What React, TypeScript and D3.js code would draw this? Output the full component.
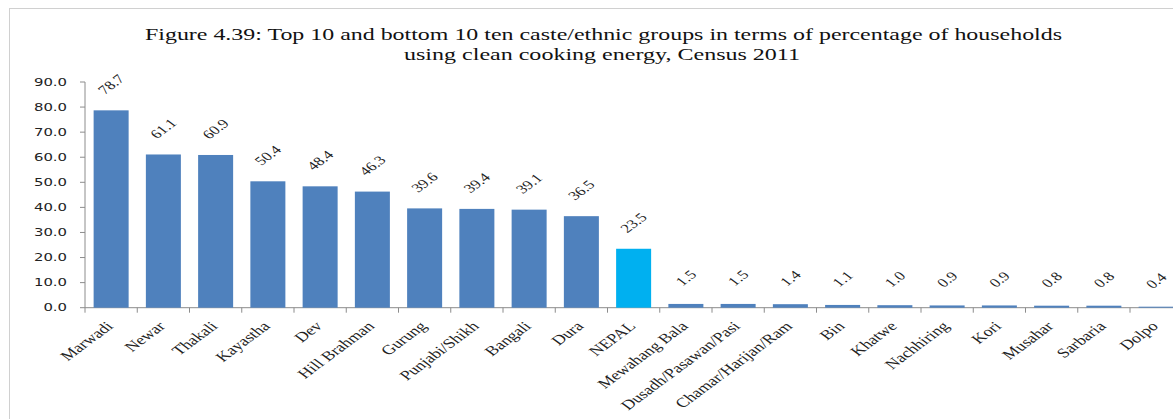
import React from "react";
import * as d3 from "d3";

const categories = [
  "Marwadi", "Newar", "Thakali", "Kayastha", "Dev", "Hill Brahman", "Gurung",
  "Punjabi/Shikh", "Bangali", "Dura", "NEPAL", "Mewahang Bala",
  "Dusadh/Pasawan/Pasi", "Chamar/Harijan/Ram", "Bin", "Khatwe", "Nachhiring",
  "Kori", "Musahar", "Sarbaria", "Dolpo",
];
const values = [78.7, 61.1, 60.9, 50.4, 48.4, 46.3, 39.6, 39.4, 39.1, 36.5, 23.5, 1.5, 1.5, 1.4, 1.1, 1.0, 0.9, 0.9, 0.8, 0.8, 0.4];
const yTicks = [0, 10, 20, 30, 40, 50, 60, 70, 80, 90];
const titleLines = [
  "Figure 4.39: Top 10 and bottom 10 ten caste/ethnic groups in terms of percentage of households",
  "using clean cooking energy, Census 2011",
];
const highlight = "NEPAL";

const W = 1173;
const H = 419;
const SX = 1.35; // horizontal stretch seen in the reference
const serif = "'Liberation Serif', 'Times New Roman', serif";
const sans = "'DejaVu Sans', Verdana, sans-serif";

export default function App() {
  const x = d3
    .scaleBand<string>()
    .domain(categories)
    .range([85, 85 + 21 * 52.25])
    .paddingInner(0.33)
    .paddingOuter(0.165);
  const y = d3.scaleLinear().domain([0, 90]).range([307.7, 82]);
  const axisColor = "#8c8c8c";
  const bw = x.bandwidth();
  const step = x.step();

  return (
    <svg
      width={W}
      height={H}
      style={{ position: "absolute", left: 0, top: 0, background: "#fff" }}
    >
      <rect x={0} y={0} width={W} height={H} fill="#fff" />
      <rect x={9.5} y={8.5} width={1300} height={600} fill="none" stroke="#d0d0d0" strokeWidth={1} />

      {/* Title */}
      <text x={603.5} y={40} textAnchor="middle" fontFamily={serif} fontSize={16} fill="#111"
        textLength={917} lengthAdjust="spacingAndGlyphs">
        {titleLines[0]}
      </text>
      <text x={602} y={60} textAnchor="middle" fontFamily={serif} fontSize={16} fill="#111"
        textLength={396} lengthAdjust="spacingAndGlyphs">
        {titleLines[1]}
      </text>

      {/* Y axis */}
      <line x1={85} x2={85} y1={y(0)} y2={y(90)} stroke={axisColor} />
      {yTicks.map((t) => (
        <g key={t}>
          <line x1={80} x2={85} y1={y(t)} y2={y(t)} stroke={axisColor} />
          <text
            transform={`translate(67,${y(t)}) scale(${SX},1)`}
            textAnchor="end"
            dominantBaseline="central"
            fontFamily={sans}
            fontSize={11}
            fill="#222"
          >
            {t.toFixed(1)}
          </text>
        </g>
      ))}

      {/* X axis */}
      <line x1={85} x2={W} y1={y(0)} y2={y(0)} stroke={axisColor} />
      {categories.map((c, i) => {
        const tx = 85 + i * step;
        return <line key={"t" + c} x1={tx} x2={tx} y1={y(0)} y2={y(0) + 5} stroke={axisColor} />;
      })}

      {/* Bars */}
      {categories.map((c, i) => (
        <rect
          key={"b" + c}
          x={x(c)}
          y={y(values[i])}
          width={bw}
          height={y(0) - y(values[i])}
          fill={c === highlight ? "#00B0F0" : "#4F81BD"}
        />
      ))}

      {/* Value labels */}
      {categories.map((c, i) => {
        const cx = (x(c) as number) + bw / 2;
        return (
          <text
            key={"v" + c}
            transform={`translate(${cx},${y(values[i]) - 26}) scale(${SX},1) rotate(-45)`}
            textAnchor="middle"
            dominantBaseline="central"
            fontFamily={serif}
            fontSize={12.5}
            fill="#222"
          >
            {values[i].toFixed(1)}
          </text>
        );
      })}

      {/* Category labels */}
      {categories.map((c) => {
        const cx = (x(c) as number) + bw / 2;
        return (
          <text
            key={"c" + c}
            transform={`translate(${cx + 3},327) scale(${SX},1) rotate(-45)`}
            textAnchor="end"
            fontFamily={serif}
            fontSize={13.5}
            fill="#222"
          >
            {c}
          </text>
        );
      })}
    </svg>
  );
}
